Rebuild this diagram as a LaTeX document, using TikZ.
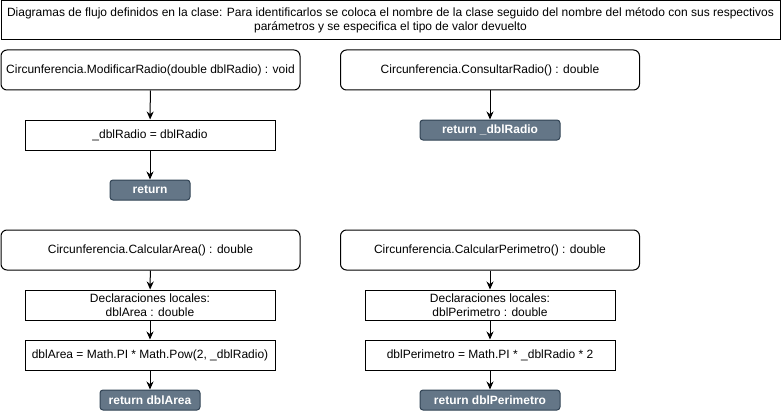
\documentclass[tikz,border=0pt]{standalone}
\usepackage{fontspec}
\setmainfont{Liberation Sans}
\usetikzlibrary{arrows.meta}
\definecolor{retfill}{HTML}{647687}
\definecolor{retdraw}{HTML}{314354}
\begin{document}
\begin{tikzpicture}[x=1pt, y=-1pt, line width=1pt,
                every node/.style={font=\fontsize{12}{14}\selectfont, inner sep=0pt},
                title/.style={draw, rectangle, minimum width=779pt, minimum height=39pt, align=center},
                method/.style={draw, rectangle, rounded corners=6pt, minimum width=299pt, minimum height=40pt, align=center},
                stmt/.style={draw, rectangle, minimum width=250pt, minimum height=30pt, align=center},
                ret/.style={draw=retdraw, fill=retfill, rectangle, rounded corners=3pt, minimum height=20pt, text=white, font=\fontsize{12}{14}\selectfont\bfseries},
                arrow/.style={-{Stealth[length=8pt, width=7pt]}}]

                \useasboundingbox (0,0) rectangle (782,412);

                \node[title] (head) at (390.5,20.5) {Diagramas de flujo definidos en la clase: Para identificarlos se coloca el nombre de la clase seguido del nombre del método con sus respectivos\\parámetros y se especifica el tipo de valor devuelto};

                \node[method] (modif) at (150.5,70) {Circunferencia.ModificarRadio(double dblRadio) : void};
                \node[stmt] (asig) at (150,135) {\_dblRadio = dblRadio};
                \node[ret, minimum width=80pt] (retmod) at (150,190) {return};

                \node[method] (consul) at (490,70) {Circunferencia.ConsultarRadio() : double};
                \node[ret, minimum width=140pt] (retcon) at (490,130) {return \_dblRadio};

                \node[method] (area) at (150.5,250) {Circunferencia.CalcularArea() : double};
                \node[stmt] (declarea) at (150,305) {Declaraciones locales:\\dblArea : double};
                \node[stmt] (calcarea) at (150,355) {dblArea = Math.PI * Math.Pow(2, \_dblRadio)};
                \node[ret, minimum width=100pt] (retarea) at (150,400) {return dblArea};

                \node[method] (perim) at (490,250) {Circunferencia.CalcularPerimetro() : double};
                \node[stmt] (declper) at (490,305) {Declaraciones locales:\\dblPerimetro : double};
                \node[stmt] (calcper) at (490,355) {dblPerimetro = Math.PI * \_dblRadio * 2};
                \node[ret, minimum width=140pt] (retper) at (490,400) {return dblPerimetro};

                \draw[arrow] (modif) -- (asig);
                \draw[arrow] (asig) -- (retmod);
                \draw[arrow] (consul) -- (retcon);
                \draw[arrow] (area) -- (declarea);
                \draw[arrow] (declarea) -- (calcarea);
                \draw[arrow] (calcarea) -- (retarea);
                \draw[arrow] (perim) -- (declper);
                \draw[arrow] (declper) -- (calcper);
                \draw[arrow] (calcper) -- (retper);
\end{tikzpicture}
\end{document}
